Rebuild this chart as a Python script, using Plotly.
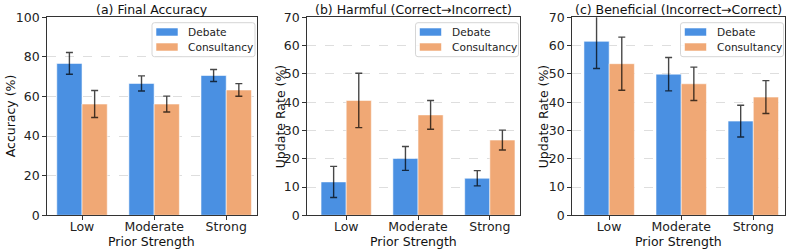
import plotly.graph_objects as go

categories = ["Low", "Moderate", "Strong"]
series_names = ["Debate", "Consultancy"]

acc_debate = [76.7, 66.6, 70.6]
acc_debate_err = [5.5, 3.8, 3.0]
acc_consult = [56.2, 56.2, 63.3]
acc_consult_err = [6.8, 4.0, 3.2]

harm_debate = [11.8, 20.1, 13.1]
harm_debate_err = [5.5, 4.2, 2.7]
harm_consult = [40.6, 35.5, 26.6]
harm_consult_err = [9.6, 5.1, 3.5]

ben_debate = [61.5, 49.9, 33.3]
ben_debate_err = [9.6, 5.9, 5.6]
ben_consult = [53.6, 46.5, 41.8]
ben_consult_err = [9.4, 5.9, 5.8]

titles = ["(a) Final Accuracy", "(b) Harmful (Correct→Incorrect)", "(c) Beneficial (Incorrect→Correct)"]
ylabels = ["Accuracy (%)", "Update Rate (%)", "Update Rate (%)"]
xlabel = "Prior Strength"
yranges = [[0, 100], [0, 70], [0, 70]]
ytick_steps = [20, 10, 10]

W, H = 793, 251
BLUE = "#4A90E2"
ORANGE = "#F0A875"
FONT = "DejaVu Sans"

def X(px):
    return px / W

def Y(py):
    return 1 - py / H

panels_px = [(46.7, 256.5), (306.7, 520.0), (571.7, 785.0)]
xranges = [[-0.49, 2.42], [-0.55, 2.42], [-0.52, 2.44]]
ylabel_x = [10, 280, 543]
top_px, bot_px = 17.3, 215.3

data = [
    (acc_debate, acc_debate_err, acc_consult, acc_consult_err),
    (harm_debate, harm_debate_err, harm_consult, harm_consult_err),
    (ben_debate, ben_debate_err, ben_consult, ben_consult_err),
]

fig = go.Figure()
layout = dict(
    width=W, height=H, autosize=False,
    margin=dict(l=0, r=0, t=0, b=0, pad=0),
    paper_bgcolor="white", plot_bgcolor="white",
    barmode="group", bargap=0.3, bargroupgap=0.0,
    showlegend=False,
    font=dict(family=FONT, size=12.5, color="#222"),
)
annotations = []
shapes = []

for i, (d, de, c, ce) in enumerate(data):
    n = "" if i == 0 else str(i + 1)
    xa, ya = "x" + n, "y" + n
    for vals, errs, name, col in [(d, de, series_names[0], BLUE), (c, ce, series_names[1], ORANGE)]:
        fig.add_trace(go.Bar(
            x=categories, y=vals, name=name, xaxis=xa, yaxis=ya,
            marker=dict(color=col, line=dict(color="rgba(255,255,255,0.55)", width=1)),
            error_y=dict(type="data", array=errs, visible=True,
                         color="rgba(0,0,0,0.72)", thickness=1.4, width=3.5),
        ))
    x0, x1 = panels_px[i]
    layout["xaxis" + n] = dict(
        domain=[X(x0), X(x1)], anchor=ya, range=xranges[i],
        showline=True, mirror=True, linecolor="#333", linewidth=1,
        ticks="outside", ticklen=3.5, tickcolor="#333", showgrid=False,
        ticklabelstandoff=-4,
        tickfont=dict(family=FONT, size=12.5, color="#222"),
        automargin=False,
    )
    layout["yaxis" + n] = dict(
        domain=[Y(bot_px), Y(top_px)], anchor=xa, range=yranges[i],
        dtick=ytick_steps[i], tick0=0,
        showline=True, mirror=True, linecolor="#333", linewidth=1,
        ticks="outside", ticklen=3.5, tickcolor="#333",
        showgrid=True, gridcolor="rgba(0,0,0,0.16)", gridwidth=0.8, griddash="dash",
        zeroline=False, automargin=False,
        tickfont=dict(family=FONT, size=12.5, color="#222"),
    )
    annotations.append(dict(
        x=X((x0 + x1) / 2), y=Y(9.5), xref="paper", yref="paper",
        text=titles[i], showarrow=False, xanchor="center", yanchor="middle",
        font=dict(family=FONT, size=12.5, color="#111"),
    ))
    annotations.append(dict(
        x=X(ylabel_x[i]), y=Y((top_px + bot_px) / 2), xref="paper", yref="paper",
        text=ylabels[i], showarrow=False, textangle=-90, xanchor="center", yanchor="middle",
        font=dict(family=FONT, size=12.5, color="#111"),
    ))
    annotations.append(dict(
        x=X((x0 + x1) / 2), y=Y(241.5), xref="paper", yref="paper",
        text=xlabel, showarrow=False, xanchor="center", yanchor="middle",
        font=dict(family=FONT, size=12.5, color="#111"),
    ))
    br = x1 - 1.5
    bl = br - 103
    bt, bb = 22.7, 56.7
    r = 2.5
    path = (f"M {X(bl + r)} {Y(bt)} L {X(br - r)} {Y(bt)} Q {X(br)} {Y(bt)} {X(br)} {Y(bt + r)} "
            f"L {X(br)} {Y(bb - r)} Q {X(br)} {Y(bb)} {X(br - r)} {Y(bb)} "
            f"L {X(bl + r)} {Y(bb)} Q {X(bl)} {Y(bb)} {X(bl)} {Y(bb - r)} "
            f"L {X(bl)} {Y(bt + r)} Q {X(bl)} {Y(bt)} {X(bl + r)} {Y(bt)} Z")
    shapes.append(dict(type="path", xref="paper", yref="paper", path=path,
                       fillcolor="rgba(255,255,255,0.8)", line=dict(color="#d6d6d6", width=1)))
    for k, (name, col, cy) in enumerate([(series_names[0], BLUE, 32.0), (series_names[1], ORANGE, 47.0)]):
        shapes.append(dict(type="rect", xref="paper", yref="paper",
                           x0=X(bl + 4), x1=X(bl + 26), y0=Y(cy - 4), y1=Y(cy + 4),
                           fillcolor=col, line=dict(color="rgba(255,255,255,0.55)", width=1)))
        annotations.append(dict(
            x=X(bl + 34), y=Y(cy), xref="paper", yref="paper", text=name,
            showarrow=False, xanchor="left", yanchor="middle",
            font=dict(family=FONT, size=10.6, color="#222"),
        ))

layout["annotations"] = annotations
layout["shapes"] = shapes
fig.update_layout(**layout)
fig.write_html(
    "out.html",
    config={"displayModeBar": False, "staticPlot": True, "responsive": False},
    post_script="document.body.style.margin='0';document.body.style.padding='0';"
                "document.documentElement.style.overflow='hidden';",
)
